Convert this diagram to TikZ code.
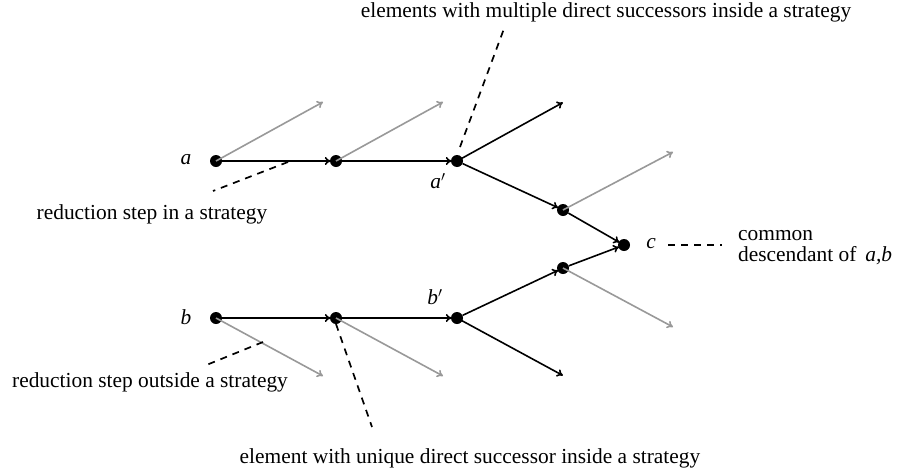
\documentclass[tikz,border=0pt]{standalone}
\usepackage{fontspec}
\setmainfont{Liberation Serif}
\usetikzlibrary{arrows.meta}
\begin{document}
\begin{tikzpicture}[x=1pt,y=-1pt,
  dot/.style={circle,fill=black,inner sep=0pt,minimum size=12pt},
  blk/.style={line width=1.6pt,-{To[length=6pt,width=8pt]},shorten >=-1pt},
  gry/.style={line width=1.6pt,draw=black!40,-{To[length=6pt,width=8pt]}},
  dsh/.style={line width=1.7pt,dash pattern=on 7pt off 6pt},
  lbl/.style={font=\fontsize{21.4}{21}\selectfont,inner sep=1pt},
  var/.style={font=\fontsize{21.4}{21}\selectfont\itshape,inner sep=1pt}]
\useasboundingbox (0,0) rectangle (899,474);
% nodes
\node[dot] (a) at (216,161) {};
\node[dot] (n2) at (336,161) {};
\node[dot] (ap) at (457,161) {};
\node[dot] (n3) at (563,210) {};
\node[dot] (c) at (624,245) {};
\node[dot] (n4) at (563,268) {};
\node[dot] (b) at (216,318) {};
\node[dot] (n5) at (336,318) {};
\node[dot] (bp) at (457,318) {};
% free ends
\coordinate (g1) at (323,102);
\coordinate (g2) at (443,102);
\coordinate (g3) at (673,152);
\coordinate (g4) at (673,327);
\coordinate (g5) at (323,376);
\coordinate (g6) at (443,376);
\coordinate (k1) at (562,103);
\coordinate (k2) at (562,375);
% labels
\node[var] (la) at (186,160) {a};
\node[var] (lap) at (438,181) {a$'$};
\node[var] (lb) at (186,317) {b};
\node[var] (lbp) at (435,297) {b$'$};
\node[var] (lc) at (651,244) {c};
% gray arrows
\draw[gry] (a.center) -- (g1);
\draw[gry] (n2.center) -- (g2);
\draw[gry] (n3.center) -- (g3);
\draw[gry] (n4.center) -- (g4);
\draw[gry] (b.center) -- (g5);
\draw[gry] (n5.center) -- (g6);
% black arrows
\draw[blk] (a) -- (n2);
\draw[blk] (n2) -- (ap);
\draw[blk] (ap.center) -- (k1);
\draw[blk] (ap) -- (n3);
\draw[blk] (n3) -- (c);
\draw[blk] (b) -- (n5);
\draw[blk] (n5) -- (bp);
\draw[blk] (bp.center) -- (k2);
\draw[blk] (bp) -- (n4);
\draw[blk] (n4) -- (c);
% annotations
\node[lbl] (t1) at (152,214) {reduction step in a strategy};
\coordinate (d1a) at (288,162);
\coordinate (d1b) at (213,191);
\draw[dsh] (d1a) -- (d1b);
\node[lbl] (t2) at (606,12) {elements with multiple direct successors inside a strategy};
\coordinate (d2a) at (460,147);
\coordinate (d2b) at (505,26);
\draw[dsh] (d2a) -- (d2b);
\node[lbl] (t3) at (150,382) {reduction step outside a strategy};
\coordinate (d3a) at (263,342);
\coordinate (d3b) at (204,366);
\draw[dsh] (d3a) -- (d3b);
\node[lbl] (t4) at (470,458) {element with unique direct successor inside a strategy};
\coordinate (d4a) at (336,324);
\coordinate (d4b) at (372,427);
\draw[dsh] (d4a) -- (d4b);
\node[lbl,anchor=west,align=left] (t5) at (737,248) {common\\descendant of \,\textit{a,b}};
\coordinate (d5a) at (668,245);
\coordinate (d5b) at (722,245);
\draw[dsh] (d5a) -- (d5b);
\end{tikzpicture}
\end{document}
